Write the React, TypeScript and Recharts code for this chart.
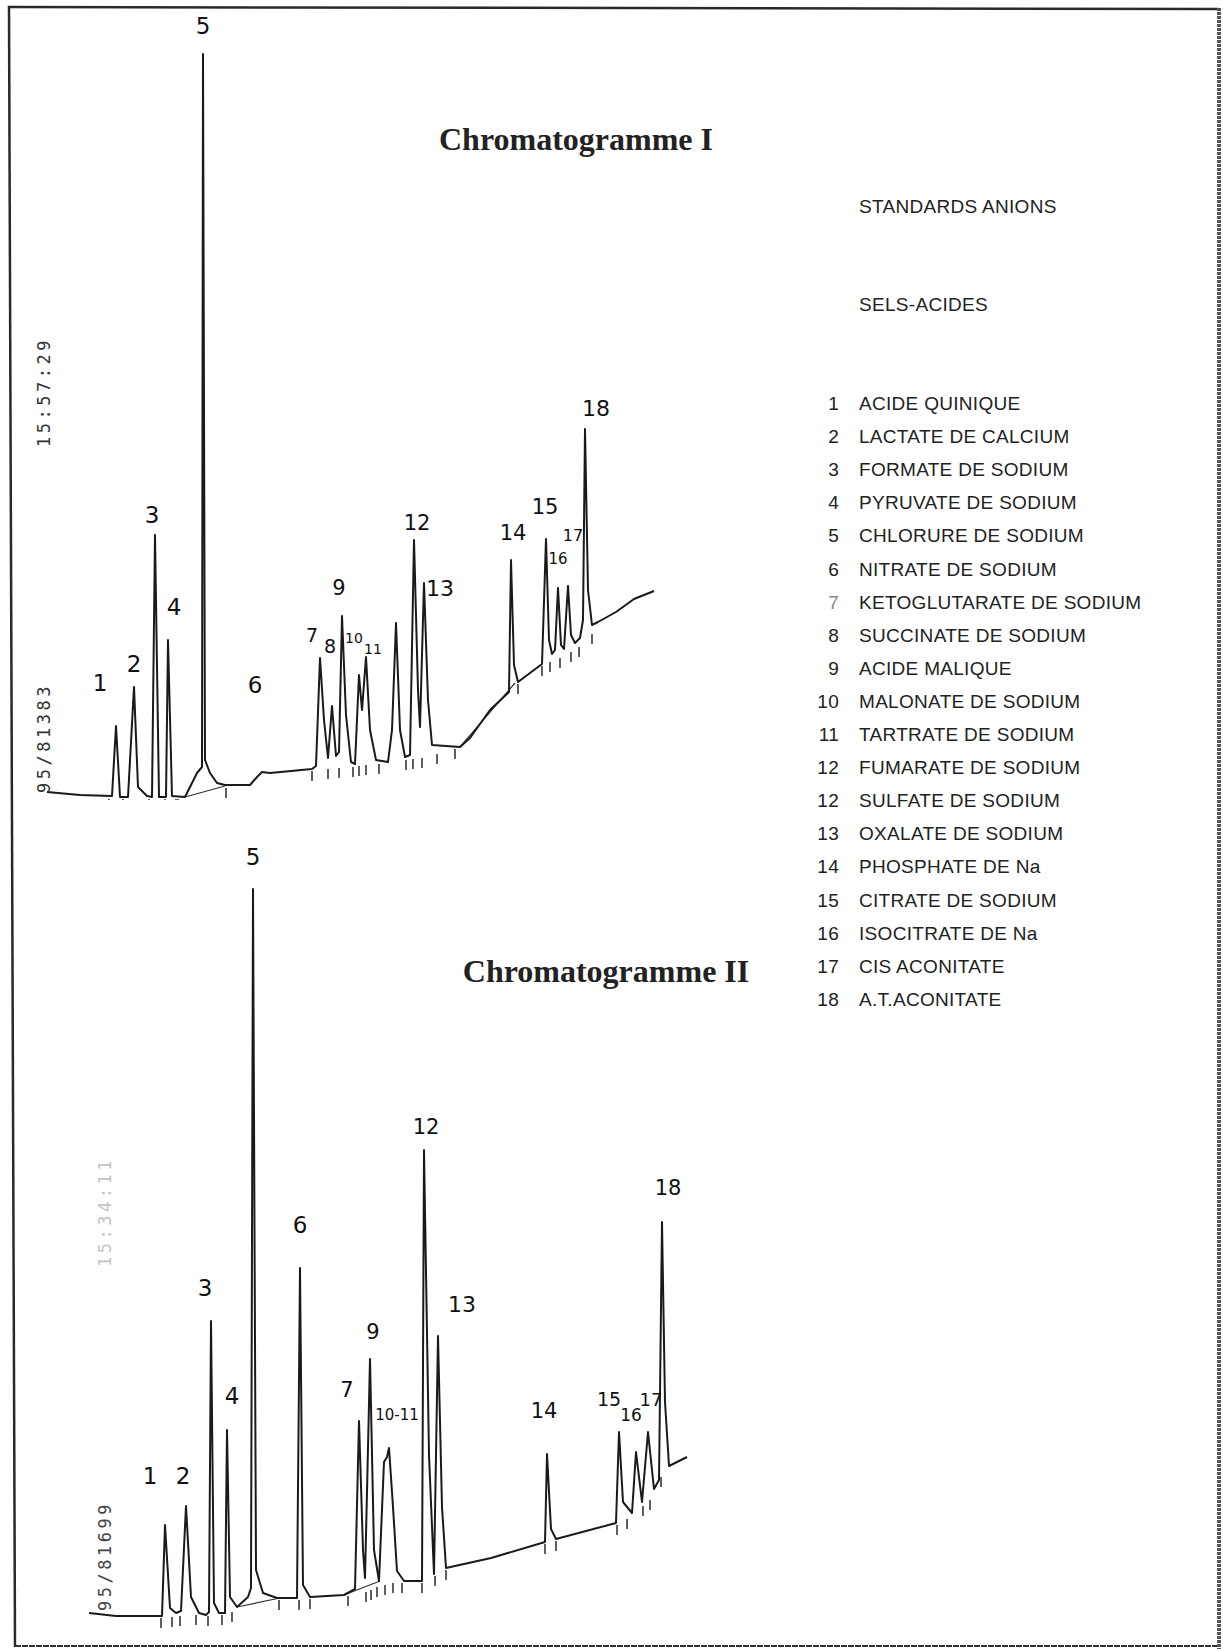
import { ComposedChart, Line, Scatter, XAxis, YAxis } from 'recharts'

// retention time (min), signal (mV)
const topTrace: [number, number][] = [
  [0.35, 8], [2.0, 5], [3.6, 4], [3.8, 74], [4.0, 3], [4.4, 3], [4.7, 113], [4.9, 13], [5.35, 4],
  [5.6, 3], [5.75, 265], [5.95, 3], [6.3, 3], [6.4, 160], [6.6, 4], [7.25, 3], [7.85, 27], [8.1, 33],
  [8.15, 746], [8.25, 40], [8.5, 27], [8.85, 17], [9.25, 15], [10.5, 15], [10.85, 23], [11.1, 28],
  [11.5, 27], [13.6, 31], [13.8, 34], [14.0, 142], [14.2, 80], [14.4, 42], [14.6, 94], [14.8, 44],
  [14.95, 48], [15.1, 184], [15.3, 85], [15.55, 38], [15.75, 36], [15.95, 125], [16.1, 90], [16.3, 143],
  [16.5, 70], [16.8, 40], [17.4, 38], [17.6, 70], [17.8, 177], [18.0, 70], [18.25, 43], [18.5, 45],
  [18.7, 260], [18.9, 110], [19.0, 73], [19.2, 217], [19.4, 100], [19.6, 55], [21.0, 53], [21.5, 62],
  [22.5, 90], [23.45, 108], [23.55, 240], [23.7, 135], [23.9, 118], [25.1, 136], [25.3, 261],
  [25.45, 160], [25.6, 146], [25.75, 150], [25.9, 212], [26.05, 155], [26.2, 151], [26.4, 214],
  [26.55, 165], [26.75, 157], [27.0, 162], [27.15, 180], [27.25, 371], [27.4, 210], [27.6, 175],
  [27.9, 178], [28.8, 188], [29.7, 201], [30.7, 209],
]
const topDrops: [number, number | null][] = [
  [7.25, 3], [9.25, 14], [9.3, null], [21.0, 53], [23.75, 117],
]
const topTicks: [number, number][] = [
  [3.45, 3], [4.15, 3], [5.45, 3], [6.25, 3], [6.8, 3], [6.9, 3], [9.3, 14], [13.6, 31], [14.4, 33],
  [14.95, 34], [15.65, 35], [15.95, 36], [16.3, 37], [16.95, 38], [18.3, 42], [18.65, 43], [19.1, 44],
  [19.85, 48], [20.75, 53], [23.9, 118], [25.1, 136], [25.5, 140], [26.0, 144], [26.55, 150],
  [26.95, 155], [27.6, 168],
]
const topLabels: [string, number, number, number][] = [
  ['1', 3.0, 117, 23], ['2', 4.7, 136, 23], ['3', 5.6, 285, 23], ['4', 6.7, 193, 23], ['5', 8.15, 774, 23],
  ['6', 10.75, 115, 23], ['7', 13.6, 165, 19], ['8', 14.5, 154, 19], ['9', 14.95, 212, 21],
  ['10', 15.7, 162, 14], ['11', 16.65, 151, 14], ['12', 18.85, 277, 21], ['13', 20.0, 212, 22],
  ['14', 23.65, 267, 21], ['15', 25.25, 293, 21], ['16', 25.9, 241, 15], ['17', 26.65, 265, 16],
  ['18', 27.8, 392, 22],
]

const bottomTrace: [number, number][] = [
  [2.45, 37], [3.8, 34], [5.9, 34], [6.1, 34], [6.25, 125], [6.5, 42], [6.8, 37], [7.05, 39], [7.3, 144],
  [7.55, 53], [7.95, 37], [8.3, 35], [8.45, 38], [8.55, 329], [8.7, 47], [8.95, 37], [9.25, 37],
  [9.35, 220], [9.5, 53], [9.85, 43], [10.4, 53], [10.55, 62], [10.65, 761], [10.8, 80], [11.15, 57],
  [11.85, 52], [12.85, 52], [13.0, 382], [13.15, 65], [13.5, 53], [15.2, 55], [15.75, 61], [15.95, 229],
  [16.15, 100], [16.25, 72], [16.35, 158], [16.5, 291], [16.7, 100], [16.95, 69], [17.2, 188],
  [17.35, 193], [17.45, 202], [17.65, 143], [17.85, 79], [18.2, 69], [19.1, 69], [19.2, 500],
  [19.45, 195], [19.7, 76], [19.9, 314], [20.1, 143], [20.3, 82], [22.55, 92], [25.25, 108],
  [25.35, 196], [25.55, 121], [25.8, 111], [28.8, 127], [28.95, 218], [29.15, 148], [29.6, 137],
  [29.8, 198], [30.1, 148], [30.4, 218], [30.7, 161], [30.95, 170], [31.1, 428], [31.25, 248],
  [31.45, 184], [32.35, 193],
]
const bottomDrops: [number, number | null][] = [
  [9.85, 43], [12.0, 52], [12.05, null], [15.2, 55], [17.0, 69],
]
const bottomTicks: [number, number][] = [
  [6.05, 34], [6.6, 35], [7.0, 36], [7.8, 37], [8.4, 36], [9.1, 37], [9.6, 40], [11.95, 52], [12.95, 52],
  [13.5, 53], [15.4, 56], [16.3, 60], [16.55, 62], [16.85, 65], [17.25, 67], [17.65, 69], [18.1, 69],
  [19.1, 69], [19.75, 76], [20.3, 82], [25.25, 108], [25.8, 111], [28.85, 127], [29.35, 133],
  [30.15, 146], [30.5, 152], [31.05, 175],
]
const bottomLabels: [string, number, number, number][] = [
  ['1', 5.5, 174, 23], ['2', 7.15, 174, 23], ['3', 8.25, 362, 23], ['4', 9.6, 254, 23], ['5', 10.65, 793, 23],
  ['6', 13.0, 425, 23], ['7', 15.35, 260, 21], ['9', 16.65, 318, 21], ['10-11', 17.85, 235, 15],
  ['12', 19.3, 523, 21], ['13', 21.1, 346, 22], ['14', 25.2, 239, 21], ['15', 28.45, 251, 19],
  ['16', 29.55, 235, 17], ['17', 30.55, 251, 18], ['18', 31.4, 462, 21],
]

const legendNumbers = ['1', '2', '3', '4', '5', '6', '7', '8', '9', '10', '11', '12', '12', '13', '14', '15', '16', '17', '18']
const legendNames = [
  'ACIDE QUINIQUE', 'LACTATE DE CALCIUM', 'FORMATE DE SODIUM', 'PYRUVATE DE SODIUM',
  'CHLORURE DE SODIUM', 'NITRATE DE SODIUM', 'KETOGLUTARATE DE SODIUM', 'SUCCINATE DE SODIUM',
  'ACIDE MALIQUE', 'MALONATE DE SODIUM', 'TARTRATE DE SODIUM', 'FUMARATE DE SODIUM',
  'SULFATE DE SODIUM', 'OXALATE DE SODIUM', 'PHOSPHATE DE Na', 'CITRATE DE SODIUM',
  'ISOCITRATE DE Na', 'CIS ACONITATE', 'A.T.ACONITATE',
]

const pts = (rows: [number, number | null][]) => rows.map(([t, s]) => ({ t, s }))
const labelPts = (rows: [string, number, number, number][]) =>
  rows.map(([label, t, s, size]) => ({ label, t, s, size }))

const INK = '#1a1a1a'

function TickMark(props: any) {
  const { cx, cy } = props
  if (cx == null || cy == null) return null
  return <line x1={cx} y1={cy + 2} x2={cx} y2={cy + 12} stroke={INK} strokeWidth={1.4} />
}

function PeakLabel(props: any) {
  const { cx, cy, payload } = props
  if (cx == null || cy == null) return null
  return (
    <text x={cx} y={cy} textAnchor="middle" dominantBaseline="central" fontFamily="DejaVu Sans"
      fontSize={payload.size} fill="#111">
      {payload.label}
    </text>
  )
}

type ChromProps = {
  trace: [number, number][]
  drops: [number, number | null][]
  ticks: [number, number][]
  labels: [string, number, number, number][]
  width: number
  height: number
  tMax: number
  sMax: number
}

function Chromatogram({ trace, drops, ticks, labels, width, height, tMax, sMax }: ChromProps) {
  return (
    <ComposedChart width={width} height={height} margin={{ top: 0, right: 0, bottom: 0, left: 0 }}>
      <XAxis type="number" dataKey="t" domain={[0, tMax]} hide allowDataOverflow />
      <YAxis type="number" dataKey="s" domain={[0, sMax]} hide allowDataOverflow />
      <Line data={pts(drops)} dataKey="s" type="linear" stroke="#333" strokeWidth={1.2} dot={false}
        connectNulls={false} isAnimationActive={false} />
      <Line data={pts(trace)} dataKey="s" type="linear" stroke={INK} strokeWidth={2} dot={false}
        strokeLinejoin="round" isAnimationActive={false} />
      <Scatter data={pts(ticks)} dataKey="s" shape={TickMark} isAnimationActive={false} />
      <Scatter data={labelPts(labels)} dataKey="s" shape={PeakLabel} isAnimationActive={false} />
    </ComposedChart>
  )
}

export default function App() {
  const rowY = (i: number) => 410 + i * 33.1
  return (
    <div style={{ position: 'absolute', left: 0, top: 0, width: 1223, height: 1649, overflow: 'hidden', background: '#fff' }}>
      <div style={{ position: 'absolute', left: 40, top: 0 }}>
        <Chromatogram trace={topTrace} drops={topDrops} ticks={topTicks} labels={topLabels}
          width={640} height={800} tMax={32} sMax={800} />
      </div>
      <div style={{ position: 'absolute', left: 40, top: 820 }}>
        <Chromatogram trace={bottomTrace} drops={bottomDrops} ticks={bottomTicks} labels={bottomLabels}
          width={680} height={830} tMax={34} sMax={830} />
      </div>
      <svg width={1223} height={1649} style={{ position: 'absolute', left: 0, top: 0, pointerEvents: 'none' }}>
        {/* page frame */}
        <line x1={8} y1={7} x2={1218} y2={9} stroke="#2a2a2a" strokeWidth={2.5} />
        <line x1={9} y1={6} x2={15} y2={1647} stroke="#2a2a2a" strokeWidth={2.5} />
        <line x1={15} y1={1646} x2={1218} y2={1646} stroke="#333" strokeWidth={2} strokeDasharray="6 1" />
        <line x1={1219} y1={8} x2={1219} y2={1649} stroke="#555" strokeWidth={4} strokeDasharray="3 1" />

        <text x={576} y={150} textAnchor="middle" fontFamily="Liberation Serif" fontWeight="bold" fontSize={32} fill="#222">
          Chromatogramme I
        </text>
        <text x={606} y={982} textAnchor="middle" fontFamily="Liberation Serif" fontWeight="bold" fontSize={32} fill="#222">
          Chromatogramme II
        </text>

        <g fontFamily="Liberation Sans" fontSize={19} fill="#222" letterSpacing={0.3}>
          <text x={859} y={213}>STANDARDS ANIONS</text>
          <text x={859} y={311}>SELS-ACIDES</text>
          {legendNames.map((name, i) => (
            <g key={i}>
              <text x={839} y={rowY(i)} textAnchor="end" fill={i === 6 ? '#888' : '#222'}>{legendNumbers[i]}</text>
              <text x={859} y={rowY(i)}>{name}</text>
            </g>
          ))}
        </g>

        <g fontFamily="DejaVu Sans Mono" fontSize={17} letterSpacing={3.5} textAnchor="middle" dominantBaseline="central">
          <text x={44} y={392} transform="rotate(-90 44 392)" fill="#333">15:57:29</text>
          <text x={44} y={738} transform="rotate(-90 44 738)" fill="#333">95/81383</text>
          <text x={105} y={1212} transform="rotate(-90 105 1212)" fill="#c4c4c4">15:34:11</text>
          <text x={105} y={1556} transform="rotate(-90 105 1556)" fill="#444">95/81699</text>
        </g>
      </svg>
    </div>
  )
}
